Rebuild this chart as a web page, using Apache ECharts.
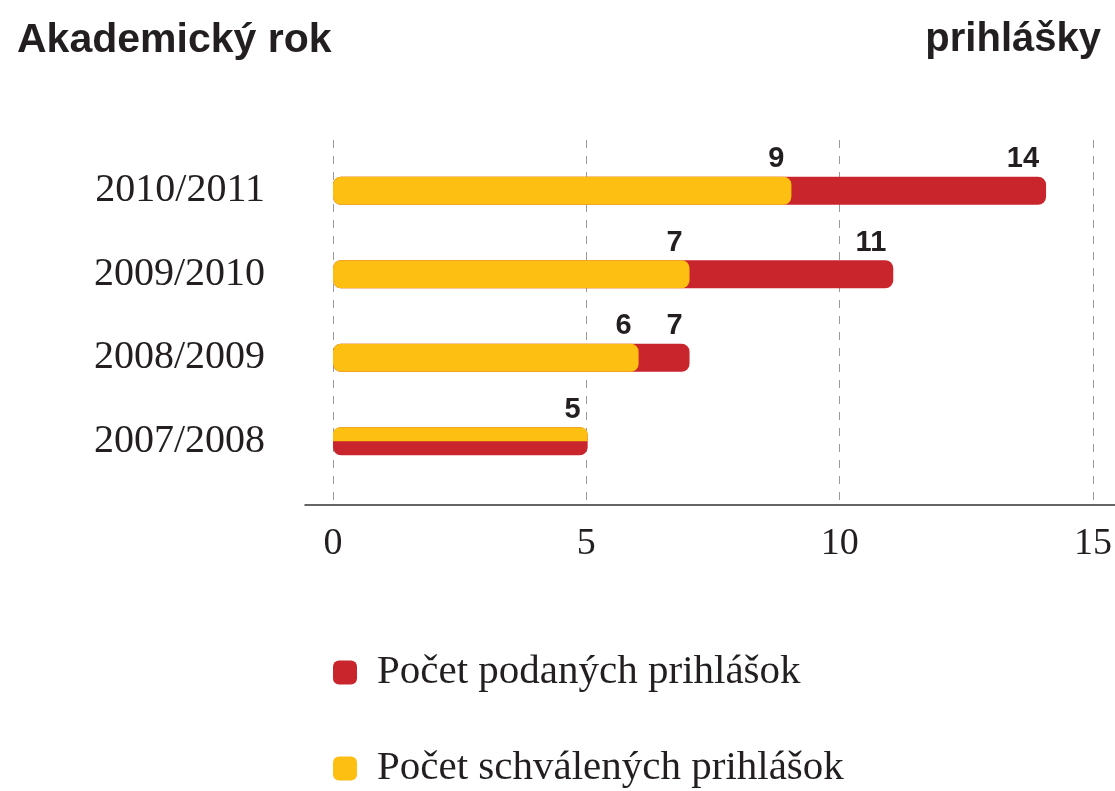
<!DOCTYPE html>
<html>
<head>
<meta charset="utf-8">
<script src="https://cdn.jsdelivr.net/npm/echarts@6/dist/echarts.min.js"></script>
<style>
  html, body { margin: 0; padding: 0; background: #fff; }
  #chart { width: 1115px; height: 791px; }
</style>
</head>
<body>
<div id="chart"></div>
<script>
// data
const years = ['2007/2008', '2008/2009', '2009/2010', '2010/2011']
const podane = [5, 7, 11, 14]      // Počet podaných prihlášok
const schvalene = ['-', 6, 7, 9]   // Počet schválených prihlášok
const schvaleneHalf = [5, '-', '-', '-'] // 2007/2008 drawn as half bar
const xTicks = [0, 5, 10, 15]

const RED = '#C9252D'
const YELLOW = '#FDBF12'
const INK = '#231F20'
const serif = '"Liberation Serif", "DejaVu Serif", serif'
const sans = '"Liberation Sans", Arial, sans-serif'

const chart = echarts.init(document.getElementById('chart'), null, { renderer: 'canvas' })

const valueLabel = {
  show: true,
  position: ['100%', '0%'],
  align: 'right',
  verticalAlign: 'bottom',
  offset: [-7, -3],
  fontFamily: sans,
  fontWeight: 'bold',
  fontSize: 29,
  color: INK
}

chart.setOption({
  animation: false,
  title: [
    { text: 'Akademický rok', left: 12, top: 15,
      textStyle: { fontFamily: sans, fontWeight: 'bold', fontSize: 41, color: INK } },
    { text: 'prihlášky', right: 9, top: 15,
      textStyle: { fontFamily: sans, fontWeight: 'bold', fontSize: 40, color: INK } }
  ],
  legend: {
    data: ['Počet podaných prihlášok', 'Počet schválených prihlášok'],
    orient: 'vertical',
    left: 333,
    top: 652,
    height: 160,
    padding: 0,
    itemWidth: 24,
    itemHeight: 24,
    itemGap: 55,
    icon: 'roundRect',
    selectedMode: false,
    textStyle: { fontFamily: serif, fontSize: 41, color: INK, padding: [0, 0, 0, 15] }
  },
  grid: [
    { left: 333, right: 18, top: 149, height: 334 },   // bars
    { left: 333, right: 18, top: 140, bottom: 286 },   // ticks + dashed lines
    { left: 305, right: 0, top: 140, bottom: 286 }     // base line
  ],
  xAxis: [
    { gridIndex: 0, type: 'value', min: 0, max: 15, show: false },
    { gridIndex: 1, type: 'value', min: 0, max: 15, interval: 5,
      axisLine: { show: false }, axisTick: { show: false },
      axisLabel: { margin: 20, fontFamily: serif, fontSize: 38, color: INK,
        formatter: v => xTicks.includes(v) ? String(v) : '' },
      splitLine: { show: true, lineStyle: { color: '#9a9a9a', type: [8, 8], width: 1 } } },
    { gridIndex: 2, type: 'value', min: 0, max: 1,
      axisLine: { show: true, lineStyle: { color: '#333', width: 1.5 } },
      axisTick: { show: false }, axisLabel: { show: false }, splitLine: { show: false } }
  ],
  yAxis: [
    { gridIndex: 0, type: 'category', data: years,
      axisLine: { show: false }, axisTick: { show: false },
      axisLabel: { margin: 68, fontFamily: serif, fontSize: 40, color: INK } },
    { gridIndex: 0, type: 'category', data: years, show: false },
    { gridIndex: 1, type: 'value', show: false },
    { gridIndex: 2, type: 'value', show: false }
  ],
  series: [
    { name: 'Počet podaných prihlášok', type: 'bar', xAxisIndex: 0, yAxisIndex: 0,
      data: podane, barWidth: 28, barGap: '-100%',
      itemStyle: { color: RED, borderRadius: 8 },
      label: valueLabel },
    { name: 'Počet schválených prihlášok', type: 'bar', xAxisIndex: 0, yAxisIndex: 0,
      data: schvalene, barWidth: 28, barGap: '-100%',
      itemStyle: { color: YELLOW, borderRadius: 8 },
      label: valueLabel },
    { name: 'Počet schválených prihlášok', type: 'bar', xAxisIndex: 0, yAxisIndex: 1,
      data: schvaleneHalf, barWidth: 14, barGap: 0,
      itemStyle: { color: YELLOW, borderRadius: [7, 7, 0, 0] } },
    { name: 'spacer', type: 'bar', xAxisIndex: 0, yAxisIndex: 1,
      data: schvaleneHalf, barWidth: 14, barGap: 0, silent: true,
      itemStyle: { color: 'rgba(0,0,0,0)' } }
  ]
})
</script>
</body>
</html>
